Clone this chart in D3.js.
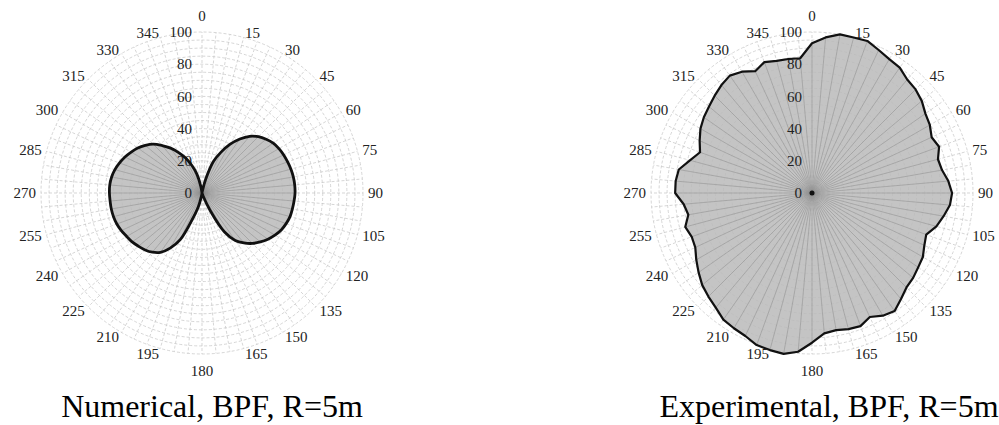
<!DOCTYPE html>
<html>
<head>
<meta charset="utf-8">
<script src="https://cdn.jsdelivr.net/npm/d3@7"></script>
<style>
  body { margin: 0; background: #fff; }
  #chart svg { display: block; font-family: "Liberation Serif", "Times New Roman", serif; }
</style>
</head>
<body>
<div id="chart"></div>
<script>
// values every 5 degrees, clockwise from 0 (top)
const numericalValues = [
  0, 0, 1, 9, 21, 28, 35, 41, 46, 49.5, 52, 54,
  55.2, 56, 56.6, 57.2, 57.6, 57.8, 57.8, 57.4, 57, 56.6, 55.6, 54.3,
  52.3, 50, 47.3, 44.3, 40.5, 36, 28, 12, 2, 0, 0, 0,
  0, 0, 2, 9, 17, 32, 39.5, 45, 48, 50, 51.5, 53,
  54, 55.3, 56.3, 56.9, 57.2, 57.3, 57.5, 57.5, 57, 56, 54.5, 52.8,
  50.8, 48.7, 46, 43, 38.5, 34, 29, 24, 18, 12, 4, 0
];
const experimentalValues = [
  93, 97, 100, 100, 100.5, 98, 96, 95, 92, 91, 89, 86,
  84.5, 82, 84, 81, 82, 85, 87, 86, 83, 80, 75.5, 77,
  79.5, 80.5, 82, 83, 86, 89.5, 88, 85, 88, 87.5, 86.5, 87.5,
  93, 99, 101.5, 101, 100.5, 98, 97, 96, 93, 91, 89, 86,
  83, 80, 79.5, 81.5, 78, 80, 85, 85, 84, 78.5, 74, 77,
  80, 82, 83.5, 85.5, 87.5, 89, 87, 83.5, 86.5, 85, 84.5, 84
];
const angleLabels = ["0", "15", "30", "45", "60", "75", "90", "105", "120", "135", "150", "165",
  "180", "195", "210", "225", "240", "255", "270", "285", "300", "315", "330", "345"];
const radialTicks = [0, 20, 40, 60, 80, 100];
const titles = ["Numerical, BPF, R=5m", "Experimental, BPF, R=5m"];

const width = 999, height = 425;
const maxR = 161;
const step = 5;
const labelR = 166;

const svg = d3.select("#chart").append("svg")
  .attr("width", width)
  .attr("height", height);

const r = d3.scaleLinear().domain([0, 100]).range([0, maxR]);
const rad = a => a * Math.PI / 180;

function drawPolar(values, title, cx, cy, titleX, curve, lineWidth, centreDot) {
  const g = svg.append("g").attr("transform", `translate(${cx},${cy})`);
  const pts = values.map((v, i) => ({ a: i * step, v: v }));

  // grid rings
  g.selectAll(".ring")
    .data(d3.range(5, 101, 5))
    .enter().append("circle")
    .attr("r", d => r(d))
    .attr("fill", "none")
    .attr("stroke", "#c4c4c4")
    .attr("stroke-width", 0.7)
    .attr("stroke-dasharray", "3,2");

  // grid spokes
  g.selectAll(".spoke")
    .data(d3.range(0, 360, step))
    .enter().append("line")
    .attr("x1", 0).attr("y1", 0)
    .attr("x2", d => r(100) * Math.sin(rad(d)))
    .attr("y2", d => -r(100) * Math.cos(rad(d)))
    .attr("stroke", "#c4c4c4")
    .attr("stroke-width", 0.7)
    .attr("stroke-dasharray", "3,2");

  const line = d3.lineRadial()
    .angle(d => rad(d.a))
    .radius(d => r(d.v))
    .curve(curve);

  g.append("path")
    .datum(pts)
    .attr("d", line)
    .attr("fill", "#bababa")
    .attr("fill-opacity", 0.85)
    .attr("stroke", "none");

  // seams from centre to each sample
  g.selectAll(".seam")
    .data(pts)
    .enter().append("line")
    .attr("x1", 0).attr("y1", 0)
    .attr("x2", d => r(d.v) * Math.sin(rad(d.a)))
    .attr("y2", d => -r(d.v) * Math.cos(rad(d.a)))
    .attr("stroke", "#8c8c8c")
    .attr("stroke-width", 0.6)
    .attr("stroke-opacity", 0.8);

  if (centreDot) {
    g.append("circle").attr("r", 2.5).attr("fill", "#111");
  }

  // radial tick labels
  g.selectAll(".rtick")
    .data(radialTicks)
    .enter().append("text")
    .attr("x", -10)
    .attr("y", d => -r(d))
    .attr("dy", "0.35em")
    .attr("text-anchor", "end")
    .attr("font-size", 15)
    .attr("fill", "#222")
    .text(d => d);

  g.append("path")
    .datum(pts)
    .attr("d", line)
    .attr("fill", "none")
    .attr("stroke", "#111")
    .attr("stroke-width", lineWidth)
    .attr("stroke-linejoin", "round");

  // angle labels
  const isMid = i => Math.abs(Math.sin(rad(i * 15))) < 0.01;
  g.selectAll(".alabel")
    .data(angleLabels)
    .enter().append("text")
    .attr("x", (d, i) => labelR * Math.sin(rad(i * 15)))
    .attr("y", (d, i) => -labelR * Math.cos(rad(i * 15)))
    .attr("dy", (d, i) => isMid(i) ? (0.35 - 0.75 * Math.cos(rad(i * 15))) + "em" : "0.35em")
    .attr("text-anchor", (d, i) => isMid(i) ? "middle" : (Math.sin(rad(i * 15)) > 0 ? "start" : "end"))
    .attr("font-size", 15)
    .attr("fill", "#222")
    .text(d => d);

  svg.append("text")
    .attr("x", titleX)
    .attr("y", 417)
    .attr("text-anchor", "middle")
    .attr("font-size", 32)
    .attr("fill", "#000")
    .text(title);
}

drawPolar(numericalValues, titles[0], 202, 193, 212, d3.curveCatmullRomClosed.alpha(0.5), 2.8, false);
drawPolar(experimentalValues, titles[1], 812, 193, 829, d3.curveLinearClosed, 2.2, true);
</script>
</body>
</html>
